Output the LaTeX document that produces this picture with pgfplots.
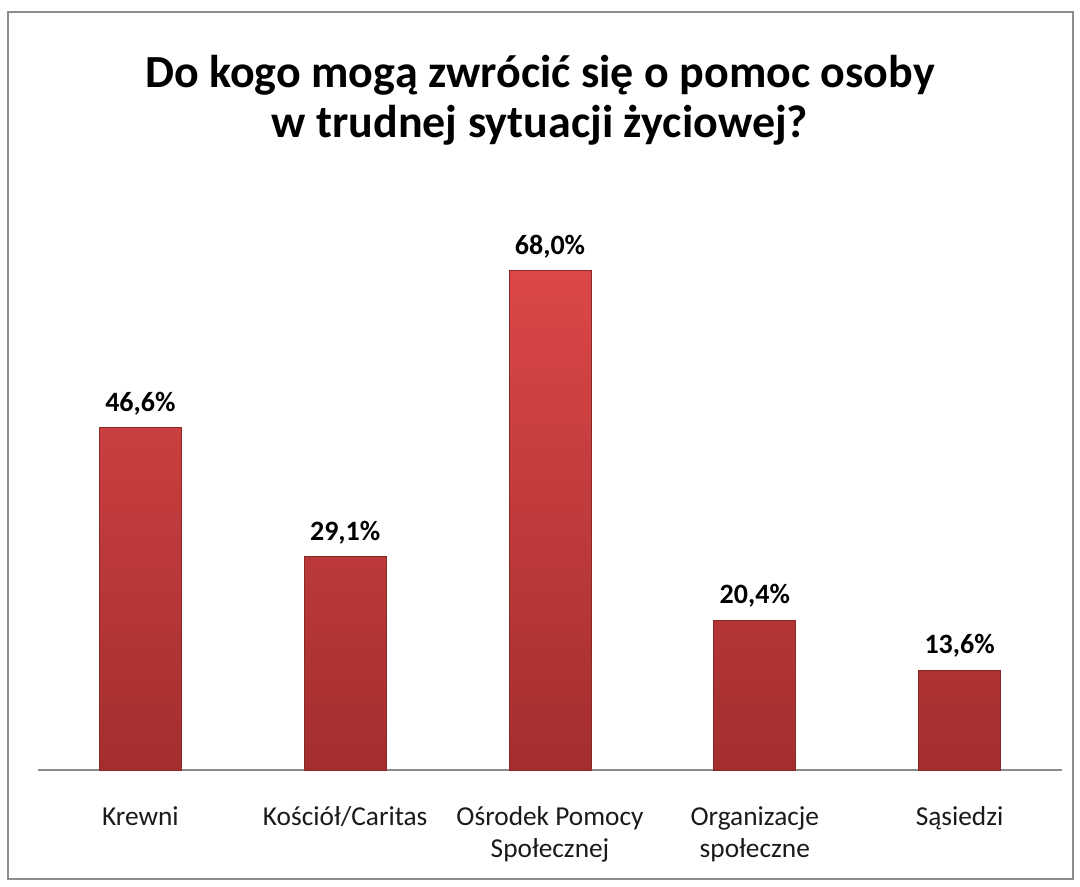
\documentclass[border=0pt]{standalone}
\usepackage{fontspec}
\setmainfont{Carlito}
\usepackage{pgfplots}
\pgfplotsset{compat=1.18}
\definecolor{bartop}{HTML}{DC4747}
\definecolor{barbot}{HTML}{A32E2E}
\definecolor{baredge}{HTML}{8A2828}
\definecolor{framegray}{HTML}{8C8C8C}
\definecolor{axgray}{HTML}{8C8C8C}
\definecolor{ticktext}{HTML}{1A1A1A}
\begin{document}
\begin{tikzpicture}
\fill[white] (0pt,0pt) rectangle (810pt,-664.5pt);
\draw[framegray, line width=1.5pt] (6pt,-9pt) rectangle (804.75pt,-659.25pt);
\node[font=\bfseries\fontsize{34.5}{37.5}\selectfont, align=center] at (405pt,-75pt)
  {Do kogo mogą zwrócić się o pomoc osoby\\w trudnej sytuacji życiowej?};
\begin{axis}[
  at={(28.5pt,-577.5pt)}, anchor=south west,
  scale only axis, width=768pt, height=441pt,
  xmin=-0.5, xmax=4.5, ymin=0, ymax=80,
  separate axis lines,
  axis x line*=bottom,
  x axis line style={-, draw=axgray, line width=0.8pt},
  hide y axis,
  xtick={0,1,2,3,4},
  xticklabels={Krewni, Kościół/Caritas, {Ośrodek Pomocy\\Społecznej}, {Organizacje\\społeczne}, Sąsiedzi},
  xticklabel style={font=\fontsize{20.5}{24}\selectfont, text=ticktext, align=center, yshift=-24pt},
  major tick length=0pt,
  xtick style={draw=none},
  ybar, bar width=61.5pt,
  /pgf/number format/assume math mode=true,
  nodes near coords={\pgfmathprintnumber[fixed,fixed zerofill,precision=1,use comma]{\pgfplotspointmeta}\%},
  every node near coord/.append style={font=\bfseries\fontsize{21}{24}\selectfont, black, inner sep=2pt, yshift=7pt},
  clip=false,
]
\addplot[draw=baredge, line width=0.5pt, top color=bartop, bottom color=barbot] coordinates {
  (0,46.6) (1,29.1) (2,68.0) (3,20.4) (4,13.6)
};
\end{axis}
\end{tikzpicture}
\end{document}
